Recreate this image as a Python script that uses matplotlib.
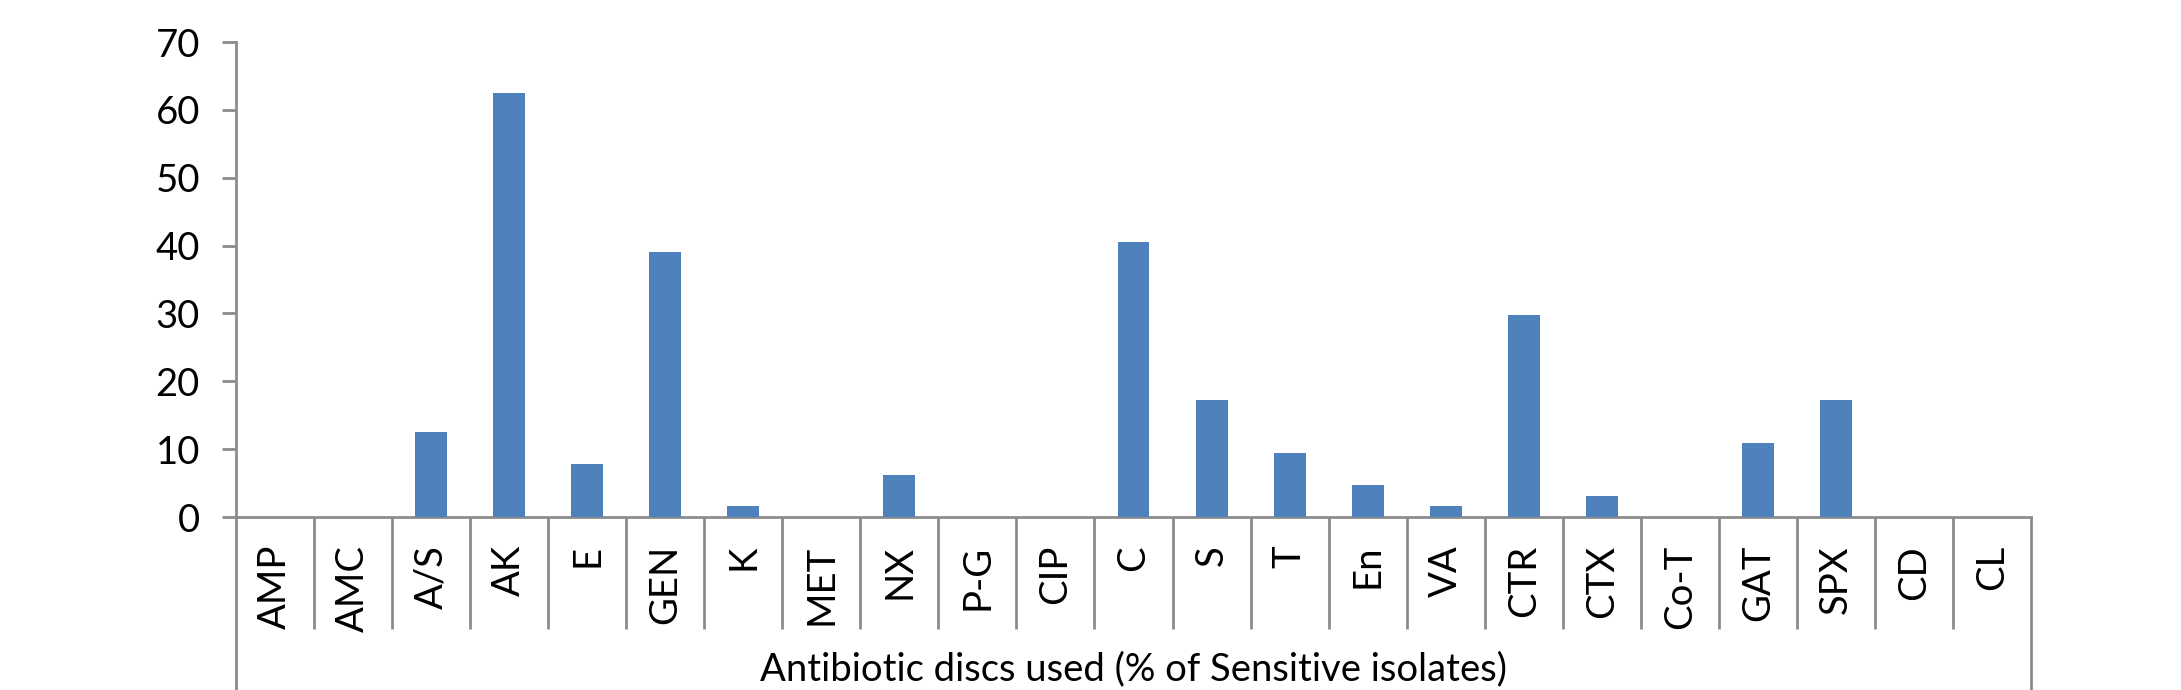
import matplotlib
matplotlib.use("Agg")
import matplotlib.pyplot as plt
from matplotlib.transforms import blended_transform_factory

categories = ["AMP", "AMC", "A/S", "AK", "E", "GEN", "K", "MET", "NX", "P-G", "CIP",
              "C", "S", "T", "En", "VA", "CTR", "CTX", "Co-T", "GAT", "SPX", "CD", "CL"]
values = [0, 0, 12.5, 62.5, 7.8, 39.1, 1.6, 0, 6.25, 0, 0,
          40.6, 17.2, 9.4, 4.7, 1.6, 29.7, 3.1, 0, 10.9, 17.2, 0, 0]
yticks = [0, 10, 20, 30, 40, 50, 60, 70]
xlabel = "Antibiotic discs used (% of Sensitive isolates)"

plt.rcParams['font.family'] = ['Lato', 'DejaVu Sans']
W, H = 2181, 690
fig = plt.figure(figsize=(W / 100, H / 100), dpi=100)
ax = fig.add_axes([236 / W, 1 - 517 / H, (2031 - 236) / W, (517 - 42) / H])

grey = "#8c8c8c"
fs = 27.5
x = list(range(len(categories)))
ax.bar(x, values, width=0.41, color="#4F81BD", zorder=3)
ax.set_xlim(-0.5, len(categories) - 0.5)
ax.set_ylim(0, 70)
ax.set_yticks(yticks)
ax.set_yticklabels([str(v) for v in yticks], fontsize=fs)
ax.tick_params(axis='y', length=10, width=2, color=grey, pad=16, direction='out')
ax.set_xticks([])
for s in ["top", "right"]:
    ax.spines[s].set_visible(False)
for s in ["left", "bottom"]:
    ax.spines[s].set_color(grey)
    ax.spines[s].set_linewidth(2)

trans = blended_transform_factory(ax.transData, ax.transAxes)
ybot_sep = -(629 - 517) / 475
ybot_full = -(700 - 517) / 475
for k in range(len(categories) - 1):
    ax.plot([k + 0.5, k + 0.5], [0, ybot_sep], transform=trans, color=grey,
            lw=2, clip_on=False, solid_capstyle='butt')
for xe in [-0.5, len(categories) - 0.5]:
    ax.plot([xe, xe], [0, ybot_full], transform=trans, color=grey,
            lw=2, clip_on=False, solid_capstyle='butt')

ylab = -(545 - 517) / 475
for k, c in enumerate(categories):
    ax.text(k, ylab, c, transform=trans, rotation=90, ha='center', va='top',
            fontsize=fs)

ax.text(0.5, -(669 - 517) / 475, xlabel, transform=ax.transAxes, ha='center',
        va='center', fontsize=fs)

fig.savefig("out.png", dpi=100)
